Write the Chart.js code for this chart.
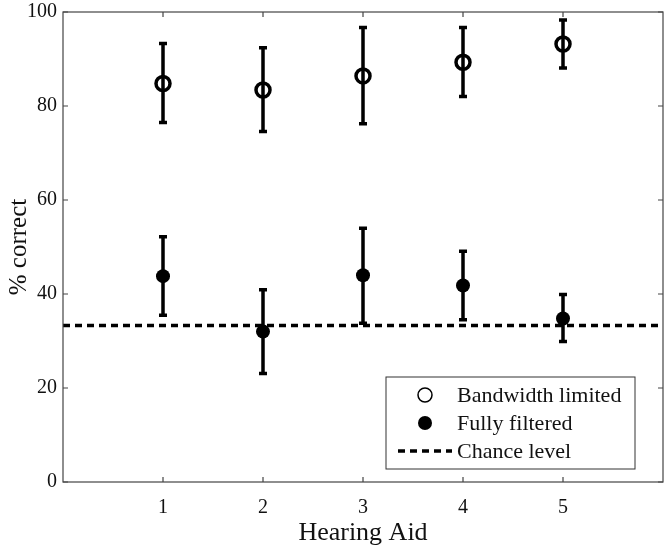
<!DOCTYPE html>
<html>
<head>
<meta charset="utf-8">
<script src="https://cdn.jsdelivr.net/npm/chart.js@4.4.0/dist/chart.umd.min.js"></script>
<style>
  html, body { margin: 0; padding: 0; background: #fff; }
  #wrap { width: 666px; height: 553px; position: relative; }
</style>
</head>
<body>
<div id="wrap"><canvas id="myChart"></canvas></div>
<script>
const hearingAids = [1, 2, 3, 4, 5];
const bandwidthMean = [84.8, 83.4, 86.4, 89.3, 93.2];
const bandwidthLow = [76.5, 74.6, 76.2, 82.0, 88.1];
const bandwidthHigh = [93.3, 92.4, 96.7, 96.7, 98.3];
const filteredMean = [43.8, 32.0, 44.0, 41.8, 34.8];
const filteredLow = [35.5, 23.1, 33.8, 34.5, 29.9];
const filteredHigh = [52.2, 40.9, 54.0, 49.1, 39.9];
const chanceLevel = 33.3;
const xRange = [0, 6];
const xTickValues = [1, 2, 3, 4, 5];
const legendLabels = ["Bandwidth limited", "Fully filtered", "Chance level"];

const FONT = "'Liberation Serif', 'DejaVu Serif', serif";
const INK = "#111";

// vertical error bars, drawn under the markers
const errorBars = {
  id: "errorBars",
  beforeDatasetsDraw(chart) {
    const { ctx, scales: { x, y } } = chart;
    const sets = [
      [bandwidthLow, bandwidthHigh],
      [filteredLow, filteredHigh],
    ];
    ctx.save();
    ctx.strokeStyle = "#000";
    ctx.lineWidth = 3.5;
    ctx.lineCap = "butt";
    sets.forEach(([lo, hi]) => {
      hearingAids.forEach((h, i) => {
        const px = x.getPixelForValue(h);
        const y0 = y.getPixelForValue(lo[i]);
        const y1 = y.getPixelForValue(hi[i]);
        ctx.beginPath();
        ctx.moveTo(px, y0);
        ctx.lineTo(px, y1);
        ctx.moveTo(px - 4, y0);
        ctx.lineTo(px + 4, y0);
        ctx.moveTo(px - 4, y1);
        ctx.lineTo(px + 4, y1);
        ctx.stroke();
      });
    });
    ctx.restore();
  },
};

// box round the plot with inward ticks on all four sides
const frame = {
  id: "frame",
  afterDraw(chart) {
    const { ctx, chartArea: a, scales: { x, y } } = chart;
    ctx.save();
    ctx.strokeStyle = "#444";
    ctx.lineWidth = 1.2;
    ctx.strokeRect(a.left, a.top, a.right - a.left, a.bottom - a.top);
    ctx.beginPath();
    x.ticks.forEach((t) => {
      const px = x.getPixelForValue(t.value);
      ctx.moveTo(px, a.bottom);
      ctx.lineTo(px, a.bottom - 5);
      ctx.moveTo(px, a.top);
      ctx.lineTo(px, a.top + 5);
    });
    y.ticks.forEach((t) => {
      const py = y.getPixelForValue(t.value);
      ctx.moveTo(a.left, py);
      ctx.lineTo(a.left + 5, py);
      ctx.moveTo(a.right, py);
      ctx.lineTo(a.right - 5, py);
    });
    ctx.stroke();
    ctx.restore();
  },
};

// legend box in the lower right corner
const boxLegend = {
  id: "boxLegend",
  afterDraw(chart) {
    const { ctx, chartArea: a } = chart;
    const w = 249, h = 92;
    const left = a.right - 28 - w;
    const top = a.bottom - 13 - h;
    ctx.save();
    ctx.fillStyle = "#fff";
    ctx.fillRect(left, top, w, h);
    ctx.strokeStyle = "#333";
    ctx.lineWidth = 1;
    ctx.strokeRect(left, top, w, h);

    const mx = left + 39;
    const rows = [top + 18, top + 46, top + 74];
    // open circle
    ctx.beginPath();
    ctx.arc(mx, rows[0], 7, 0, Math.PI * 2);
    ctx.strokeStyle = "#000";
    ctx.lineWidth = 1.5;
    ctx.stroke();
    // filled circle
    ctx.beginPath();
    ctx.arc(mx, rows[1], 7, 0, Math.PI * 2);
    ctx.fillStyle = "#000";
    ctx.fill();
    // dashed line
    ctx.beginPath();
    ctx.setLineDash([7, 5]);
    ctx.lineWidth = 3.5;
    ctx.moveTo(left + 12, rows[2]);
    ctx.lineTo(left + 66, rows[2]);
    ctx.stroke();
    ctx.setLineDash([]);

    ctx.fillStyle = INK;
    ctx.font = "22px " + FONT;
    ctx.textBaseline = "middle";
    legendLabels.forEach((lab, i) => {
      ctx.fillText(lab, left + 71, rows[i] + 1);
    });
    ctx.restore();
  },
};

new Chart(document.getElementById("myChart"), {
  type: "scatter",
  data: {
    datasets: [
      {
        label: legendLabels[0],
        data: hearingAids.map((h, i) => ({ x: h, y: bandwidthMean[i] })),
        pointStyle: "circle",
        pointRadius: 7,
        pointBorderWidth: 3.5,
        pointBorderColor: "#000",
        pointBackgroundColor: "rgba(0,0,0,0)",
      },
      {
        label: legendLabels[1],
        data: hearingAids.map((h, i) => ({ x: h, y: filteredMean[i] })),
        pointStyle: "circle",
        pointRadius: 7,
        pointBorderWidth: 0,
        pointBackgroundColor: "#000",
      },
      {
        type: "line",
        label: legendLabels[2],
        data: xRange.map((v) => ({ x: v, y: chanceLevel })),
        borderColor: "#000",
        borderWidth: 3.5,
        borderDash: [7, 5],
        pointRadius: 0,
        order: 5,
      },
    ],
  },
  options: {
    responsive: true,
    maintainAspectRatio: false,
    animation: false,
    layout: { autoPadding: false, padding: { top: 12, right: 3, left: 0, bottom: 0 } },
    plugins: {
      legend: { display: false },
      tooltip: { enabled: false },
    },
    scales: {
      x: {
        type: "linear",
        min: xRange[0],
        max: xRange[1],
        afterBuildTicks(scale) {
          scale.ticks = xTickValues.map((v) => ({ value: v }));
        },
        afterFit(scale) {
          scale.height = 71;
          scale.paddingLeft = 0;
          scale.paddingRight = 0;
        },
        grid: { display: false, drawTicks: false },
        border: { display: false },
        ticks: {
          color: INK,
          font: { family: FONT, size: 20 },
          padding: 14,
        },
        title: {
          display: true,
          text: "Hearing Aid",
          color: INK,
          font: { family: FONT, size: 26 },
          padding: { top: 0 },
        },
      },
      y: {
        min: 0,
        max: 100,
        afterFit(scale) {
          scale.width = 63;
          scale.paddingTop = 0;
          scale.paddingBottom = 0;
        },
        grid: { display: false, drawTicks: false },
        border: { display: false },
        ticks: {
          stepSize: 20,
          color: INK,
          font: { family: FONT, size: 20 },
          padding: 6,
        },
        title: {
          display: true,
          text: "% correct",
          color: INK,
          font: { family: FONT, size: 25 },
          padding: { bottom: 0 },
        },
      },
    },
  },
  plugins: [errorBars, frame, boxLegend],
});
</script>
</body>
</html>
